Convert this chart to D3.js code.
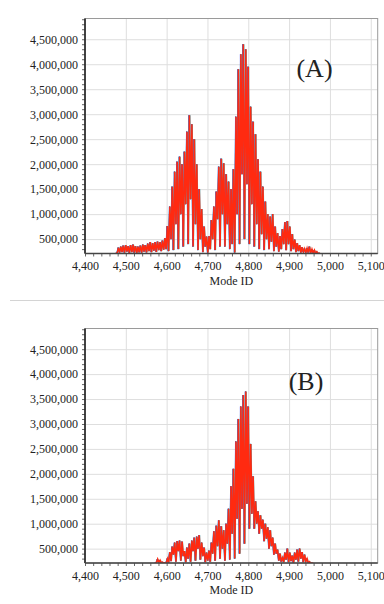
<!DOCTYPE html>
<html>
<head>
<meta charset="utf-8">
<script src="https://cdn.jsdelivr.net/npm/d3@7"></script>
<style>
    body { margin: 0; background: #fff; }
    text { font-family: "Liberation Serif", "Times New Roman", serif; fill: #222; }
</style>
</head>
<body>
<script>
//axis ticks
let modeTicks = [4400, 4500, 4600, 4700, 4800, 4900, 5000, 5100];
let ampTicks = [500000, 1000000, 1500000, 2000000, 2500000, 3000000, 3500000, 4000000, 4500000];

//panel A: peak values (thousands) every 6 modes from modeStartA, troughs 3 modes after each peak
let modeStartA = 4476;
let hiA = [220,330,350,370,380,360,380,390,360,350,370,390,380,410,440,420,440,450,440,470,
    520,760,1150,1550,1850,2050,2150,2000,2250,2650,2980,2800,2500,2000,1500,1100,750,550,560,880,
    1150,1450,1950,2110,2020,1800,1650,1500,1900,2950,3900,4200,4400,4300,3950,3150,2850,2600,2100,1850,
    1550,1250,1000,950,1000,750,620,560,700,840,860,750,600,490,420,380,340,310,320,350,300,280,250,220];
let loA = [220,230,240,230,250,225,240,230,225,235,230,250,235,260,240,270,245,280,260,290,
    300,260,500,280,800,300,1000,350,1200,400,1300,350,800,280,500,240,350,230,300,500,
    280,900,350,1000,350,800,300,400,230,1000,400,1800,500,1600,400,1200,350,800,300,600,
    280,500,300,450,260,350,250,300,400,280,400,260,300,240,260,230,240,225,230,220,220,215,210,200];

//panel B
let modeStartB = 4572;
let hiB = [220,290,270,230,215,300,430,540,620,650,660,640,450,520,600,660,720,740,770,620,
    520,420,460,620,850,960,1070,950,870,1000,1300,1750,2100,2650,3100,3350,3580,3650,3350,2600,
    1950,1450,1250,1170,1080,1000,930,870,720,600,480,400,320,420,500,420,360,420,480,500,
    430,380,300,240,210];
let loB = [215,225,215,210,210,220,250,380,240,450,260,350,230,300,240,450,260,500,280,350,
    230,260,240,400,260,550,300,500,260,600,280,800,300,1100,400,1300,600,1400,900,1200,
    900,1000,800,900,650,700,500,550,380,400,260,240,230,280,230,250,220,280,240,300,
    230,240,215,210,205];

//other runs peeking out under the red one (shift in mode ID)
let runColors = ["#2a3cff", "#19b34a", "#9b2fc9", "#1fb7c9", "#ff2a10"];
let runShift = [-1.3, -1.0, -0.8, 1.0, 0];

let width = 384,
    height = 604;

let svg = d3.select("body")
    .append("svg")
    .attr("width", width)
    .attr("height", height);

//separator between panels
svg.append("line")
    .attr("x1", 10).attr("x2", width)
    .attr("y1", 300.5).attr("y2", 300.5)
    .attr("stroke", "#d4d4d4")
    .attr("stroke-width", 1);

drawPanel("A", modeStartA, hiA, loA, 18.5, 253.5, 76.5, 314.5);
drawPanel("B", modeStartB, hiB, loB, 328.5, 563, 390, 306);

function drawPanel(name, modeStart, hi, lo, top, bottom, tagY, tagX) {
    let left = 85,
        right = 377.7;

    let x = d3.scaleLinear()
        .domain([4400, 5117])
        .range([left, right]);

    let y = d3.scaleLinear()
        .domain([212000, 4915000])
        .range([bottom, top]);

    let g = svg.append("g");

    //gridlines
    g.append("g")
        .attr("transform", "translate(0," + bottom + ")")
        .call(d3.axisBottom(x).tickValues(modeTicks).tickSize(-(bottom - top)).tickFormat(""))
        .call(s => s.select(".domain").remove())
        .selectAll("line").attr("stroke", "#dedede");

    g.append("g")
        .attr("transform", "translate(" + left + ",0)")
        .call(d3.axisLeft(y).tickValues(ampTicks).tickSize(-(right - left)).tickFormat(""))
        .call(s => s.select(".domain").remove())
        .selectAll("line").attr("stroke", "#dedede");

    //frame
    g.append("rect")
        .attr("x", left).attr("y", top)
        .attr("width", right - left).attr("height", bottom - top)
        .attr("fill", "none")
        .attr("stroke", "#9a9a9a");

    //build zigzag points
    let pts = [];
    hi.forEach(function (v, i) {
        pts.push([modeStart + 6 * i, v * 1000]);
        pts.push([modeStart + 6 * i + 3, lo[i] * 1000]);
    });

    let clipId = "clip" + name;
    svg.append("clipPath")
        .attr("id", clipId)
        .append("rect")
        .attr("x", left).attr("y", top)
        .attr("width", right - left).attr("height", bottom - top);

    let runs = g.append("g").attr("clip-path", "url(#" + clipId + ")");

    runColors.forEach(function (c, k) {
        let line = d3.line()
            .x(d => x(d[0] + runShift[k]))
            .y(d => y(d[1]));
        runs.append("path")
            .datum(pts)
            .attr("d", line)
            .attr("fill", "none")
            .attr("stroke", c)
            .attr("stroke-width", runShift[k] == 0 ? 1.5 : 0.7);
    });

    //minor ticks
    g.append("g")
        .attr("transform", "translate(" + left + ",0)")
        .call(d3.axisLeft(y).tickValues(d3.range(300000, 4900001, 100000)).tickSize(3).tickFormat(""))
        .call(s => s.select(".domain").remove())
        .selectAll("line").attr("stroke", "#666");

    g.append("g")
        .attr("transform", "translate(0," + bottom + ")")
        .call(d3.axisBottom(x).tickValues(d3.range(4400, 5101, 20)).tickSize(3).tickFormat(""))
        .call(s => s.select(".domain").remove())
        .selectAll("line").attr("stroke", "#666");

    //axis labels
    let yAxis = g.append("g")
        .attr("transform", "translate(" + left + ",0)")
        .call(d3.axisLeft(y).tickValues(ampTicks).tickSize(0).tickPadding(7).tickFormat(d3.format(",")));
    yAxis.select(".domain").remove();
    yAxis.selectAll("text")
        .attr("font-family", "Liberation Serif")
        .attr("font-size", 12)
        .attr("fill", "#222");

    let xAxis = g.append("g")
        .attr("transform", "translate(0," + bottom + ")")
        .call(d3.axisBottom(x).tickValues(modeTicks).tickSize(0).tickPadding(8).tickFormat(d3.format(",")));
    xAxis.select(".domain").remove();
    xAxis.selectAll("text")
        .attr("font-family", "Liberation Serif")
        .attr("font-size", 12)
        .attr("fill", "#222");

    //dark axis lines
    g.append("line")
        .attr("x1", left).attr("x2", left)
        .attr("y1", top).attr("y2", bottom)
        .attr("stroke", "#222").attr("stroke-width", 1.6);
    g.append("line")
        .attr("x1", left).attr("x2", right)
        .attr("y1", bottom).attr("y2", bottom)
        .attr("stroke", "#444").attr("stroke-width", 1.4);

    g.append("text")
        .attr("x", (left + right) / 2)
        .attr("y", bottom + 31)
        .attr("text-anchor", "middle")
        .attr("font-size", 12)
        .text("Mode ID");

    g.append("text")
        .attr("x", tagX)
        .attr("y", tagY)
        .attr("text-anchor", "middle")
        .attr("font-size", 26)
        .text("(" + name + ")");
}
</script>
</body>
</html>
